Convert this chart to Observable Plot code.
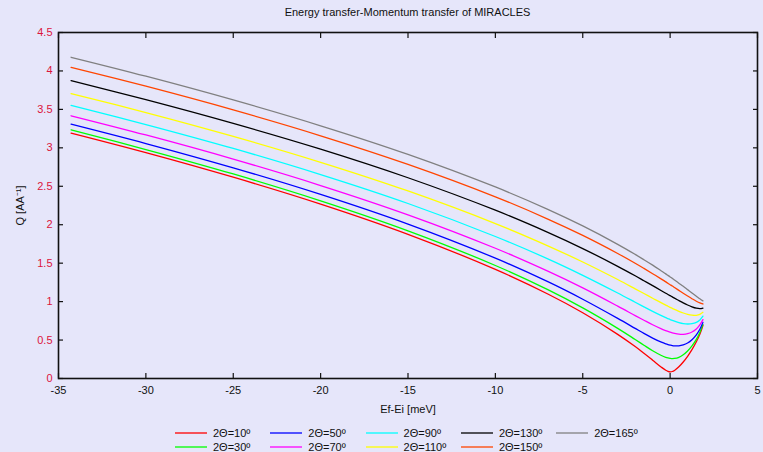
<!DOCTYPE html>
<html>
<head>
<meta charset="utf-8">
<script src="https://cdn.jsdelivr.net/npm/d3@7"></script>
<script src="https://cdn.jsdelivr.net/npm/@observablehq/plot@0.6"></script>
<style>
  body { margin: 0; background: #e6e6fa; font-family: "Liberation Sans", Arial, sans-serif; }
  #chart { width: 763px; height: 452px; overflow: hidden; background: #e6e6fa; }
  #title { width: 699px; padding-left: 58px; height: 24px; line-height: 24px; font-size: 11px; text-align: center; color: #111; }
  #legend { display: grid; grid-template-columns: repeat(5, 95.3px); grid-template-rows: 14px 14px; grid-auto-flow: column; padding-left: 175px; margin-top: 6px; font-size: 11px; color: #111; }
  .item { display: flex; align-items: center; height: 14px; white-space: nowrap; }
  .item svg { margin-right: 6px; }
</style>
</head>
<body>
<div id="chart">
  <div id="title">Energy transfer-Momentum transfer of MIRACLES</div>
  <div id="plot"></div>
  <div id="legend"></div>
</div>
<script>
// Energy transfer Ef-Ei (meV)
const energy = [-34.28, -30, -25, -20, -15, -10, -7, -5, -3, -2, -1.5, -1, -0.5, -0.25, -0.125, 0, 0.125, 0.25, 0.5, 0.75, 1, 1.25, 1.5, 1.7, 1.877];

// Momentum transfer Q (Å^-1) for each scattering angle
const q10  = [3.192, 2.938, 2.618, 2.268, 1.875, 1.419, 1.099, 0.855, 0.574, 0.415, 0.328, 0.238, 0.147, 0.107, 0.094, 0.087, 0.091, 0.105, 0.152, 0.215, 0.289, 0.375, 0.477, 0.576, 0.690];
const q30  = [3.232, 2.978, 2.660, 2.311, 1.921, 1.470, 1.155, 0.918, 0.652, 0.507, 0.433, 0.361, 0.299, 0.275, 0.267, 0.262, 0.259, 0.261, 0.276, 0.308, 0.357, 0.423, 0.509, 0.598, 0.704];
const q50  = [3.308, 3.056, 2.740, 2.394, 2.008, 1.565, 1.259, 1.031, 0.782, 0.652, 0.587, 0.526, 0.472, 0.450, 0.441, 0.434, 0.428, 0.425, 0.425, 0.437, 0.462, 0.505, 0.568, 0.640, 0.730];
const q70  = [3.417, 3.167, 2.853, 2.510, 2.129, 1.694, 1.396, 1.178, 0.941, 0.818, 0.758, 0.699, 0.646, 0.623, 0.612, 0.603, 0.594, 0.587, 0.577, 0.575, 0.583, 0.605, 0.644, 0.696, 0.766];
const q90  = [3.552, 3.303, 2.992, 2.652, 2.276, 1.847, 1.556, 1.342, 1.112, 0.992, 0.932, 0.873, 0.817, 0.791, 0.779, 0.767, 0.756, 0.745, 0.728, 0.715, 0.709, 0.713, 0.731, 0.762, 0.811];
const q110 = [3.706, 3.459, 3.149, 2.812, 2.439, 2.015, 1.726, 1.515, 1.287, 1.166, 1.105, 1.044, 0.983, 0.954, 0.940, 0.925, 0.912, 0.898, 0.874, 0.852, 0.834, 0.823, 0.822, 0.834, 0.861];
const q130 = [3.874, 3.627, 3.318, 2.983, 2.611, 2.189, 1.901, 1.690, 1.459, 1.336, 1.272, 1.208, 1.142, 1.109, 1.093, 1.077, 1.061, 1.045, 1.014, 0.984, 0.956, 0.932, 0.914, 0.908, 0.915];
const q150 = [4.047, 3.801, 3.493, 3.157, 2.785, 2.363, 2.074, 1.861, 1.626, 1.499, 1.432, 1.363, 1.293, 1.257, 1.238, 1.220, 1.202, 1.183, 1.146, 1.109, 1.073, 1.038, 1.005, 0.983, 0.969];
const q165 = [4.178, 3.932, 3.623, 3.287, 2.915, 2.491, 2.200, 1.984, 1.745, 1.614, 1.545, 1.474, 1.399, 1.361, 1.341, 1.321, 1.302, 1.281, 1.240, 1.199, 1.156, 1.113, 1.071, 1.037, 1.010];

const labels = ["2Θ=10º", "2Θ=30º", "2Θ=50º", "2Θ=70º", "2Θ=90º", "2Θ=110º", "2Θ=130º", "2Θ=150º", "2Θ=165º"];
const colors = ["#ff0000", "#00ff00", "#0000ff", "#ff00ff", "#00ffff", "#ffff00", "#000000", "#ff4500", "#808080"];
const xTicks = [-35, -30, -25, -20, -15, -10, -5, 0, 5];
const yTicks = [0, 0.5, 1, 1.5, 2, 2.5, 3, 3.5, 4, 4.5];

const series = [q10, q30, q50, q70, q90, q110, q130, q150, q165];
const rows = series.flatMap((qs, i) => energy.map((e, j) => ({e, q: qs[j], angle: labels[i]})));

const fmt = d => String(d);
const blank = () => "";

const plot = Plot.plot({
  width: 763,
  height: 396,
  marginLeft: 58,
  marginRight: 6,
  marginTop: 8,
  marginBottom: 42,
  style: {background: "transparent", fontFamily: "'Liberation Sans', Arial, sans-serif", fontSize: "11px", color: "#111", overflow: "visible"},
  x: {domain: [-35, 5]},
  y: {domain: [0, 4.5]},
  color: {domain: labels, range: colors},
  marks: [
    Plot.axisX({ticks: xTicks, tickSize: 0, tickPadding: 8, tickFormat: fmt, label: "Ef-Ei [meV]", labelAnchor: "center", labelOffset: 34, labelArrow: "none"}),
    Plot.axisX({ticks: xTicks, tickSize: -5, tickFormat: blank, label: null, strokeWidth: 1.2}),
    Plot.axisX({anchor: "top", ticks: xTicks, tickSize: -5, tickFormat: blank, label: null, strokeWidth: 1.2}),
    Plot.axisY({ticks: yTicks, tickSize: 0, tickPadding: 6, tickFormat: fmt, fill: "#dc143c", label: null}),
    Plot.axisY({ticks: yTicks, tickSize: -5, tickFormat: blank, label: "Q [AA⁻¹]", labelAnchor: "center", labelOffset: 42, labelArrow: "none", strokeWidth: 1.2}),
    Plot.axisY({anchor: "right", ticks: yTicks, tickSize: -5, tickFormat: blank, label: null, strokeWidth: 1.2}),
    Plot.line(rows, {x: "e", y: "q", z: "angle", stroke: "angle", strokeWidth: 1.3, curve: "catmull-rom"}),
    Plot.frame({stroke: "#111", strokeWidth: 1.6})
  ]
});
document.getElementById("plot").appendChild(plot);

// Line-sample legend, two rows filled column by column
const legend = d3.select("#legend");
labels.forEach((lab, i) => {
  const item = legend.append("div").attr("class", "item");
  const sw = item.append("svg").attr("width", 32).attr("height", 14);
  sw.append("line").attr("x1", 0).attr("x2", 32).attr("y1", 7).attr("y2", 7)
    .attr("stroke", colors[i]).attr("stroke-width", 1.3);
  item.append("span").text(lab);
});
</script>
</body>
</html>
